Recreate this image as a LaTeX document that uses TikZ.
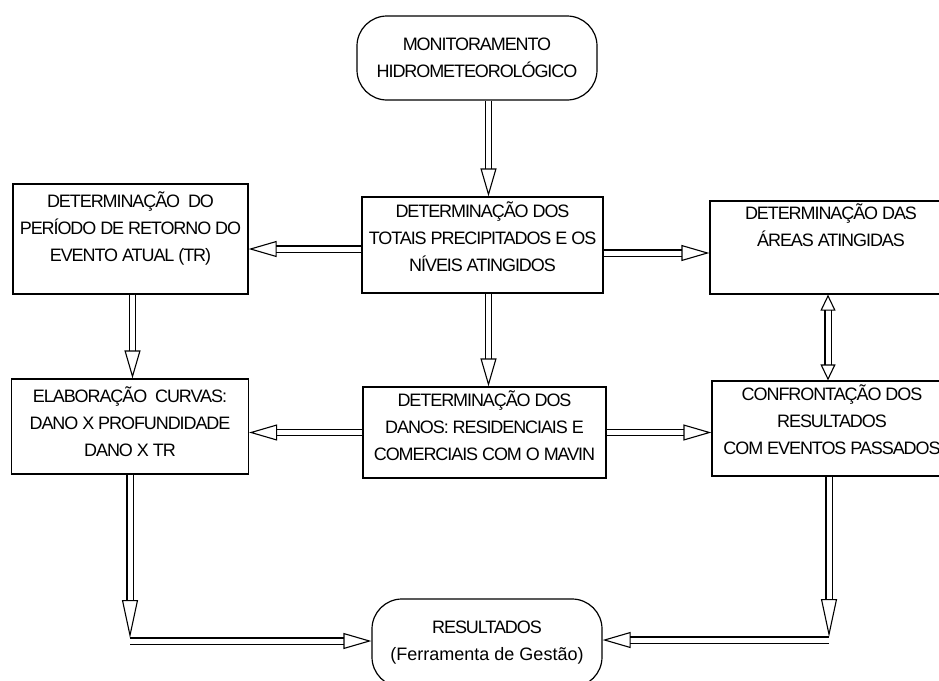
\documentclass[tikz,border=0pt]{standalone}
\usepackage{fontspec}
\setmainfont{Liberation Sans}[LetterSpace=-6]
\newfontfamily\plainsans{Liberation Sans}
\usetikzlibrary{arrows.meta}
\usetikzlibrary{calc}
\tikzstyle{block}=[draw,line width=1.2pt,inner sep=0pt]
\tikzstyle{term}=[draw,line width=1.2pt,rounded corners=30pt,align=center,inner sep=0pt]
\newcommand{\btext}[4]{\parbox[c][#2][t]{#1}{\centering\vspace*{#3}\strut#4}}

\begin{document}
\begin{tikzpicture}[x=1pt,y=-1pt,font=\fontsize{18}{27}\selectfont]
\tikzstyle{arr}=[double,double distance=5pt,line width=1.1pt,-{Triangle[open,length=28pt,width=16pt,line width=1.1pt]}]
\tikzstyle{longarr}=[arr,-{Triangle[open,length=38pt,width=16pt,line width=1.1pt]}]
\tikzstyle{dblarr}=[arr,{Triangle[open,length=16pt,width=15pt,line width=1.1pt]}-{Triangle[open,length=16pt,width=15pt,line width=1.1pt]}]
\useasboundingbox (0,0) rectangle (939,680);
\node [term,minimum width=240pt,minimum height=84pt] (mon) at (477,58) {MONITORAMENTO\\HIDROMETEOROLÓGICO};
\node [block] (tot) at (482.5,245) {\btext{241pt}{96pt}{2pt}{DETERMINAÇÃO DOS\\TOTAIS PRECIPITADOS E OS\\NÍVEIS ATINGIDOS}};
\node [block] (tr) at (130.5,239) {\btext{235pt}{110pt}{5pt}{DETERMINAÇÃO~ DO\\PERÍODO DE RETORNO DO\\EVENTO ATUAL (TR)}};
\node [block] (are) at (831,247.5) {\btext{242pt}{93pt}{0pt}{DETERMINAÇÃO DAS\\ÁREAS ATINGIDAS}};
\node [block] (cur) at (130,426.5) {\btext{237pt}{95pt}{5pt}{ELABORAÇÃO~ CURVAS:\\DANO X PROFUNDIDADE\\DANO X TR}};
\node [block] (dan) at (484.5,432.5) {\btext{243pt}{91pt}{1pt}{DETERMINAÇÃO DOS\\DANOS: RESIDENCIAIS E\\COMERCIAIS COM O MAVIN}};
\node [block] (con) at (832,428.5) {\btext{240pt}{95pt}{1pt}{CONFRONTAÇÃO DOS\\RESULTADOS\\COM EVENTOS PASSADOS}};
\node [term,minimum width=230pt,minimum height=88pt] (res) at (487,643) {RESULTADOS\\{\plainsans(Ferramenta de Gestão)}};
\coordinate (lc) at (130,641);
\coordinate (rc) at (829,640);
\draw [arr] ([xshift=6pt]tot.north |- mon.south) -- ([xshift=6pt]tot.north);
\draw [arr] ([yshift=-4pt]tot.west) -- ([yshift=-4pt]tot.west -| tr.east);
\draw [arr] ([yshift=-8pt]tot.east) -- ([yshift=-8pt]tot.east -| are.west);
\draw [arr] ([xshift=6pt]tot.south) -- ([xshift=6pt]tot.south |- dan.north);
\draw [arr] ([xshift=2pt]tr.south) -- ([xshift=2pt]tr.south |- cur.north);
\draw [arr] (dan.west) -- (dan.west -| cur.east);
\draw [arr] (dan.east) -- (dan.east -| con.west);
\draw [dblarr] ([xshift=-3pt]are.south) -- ([xshift=-3pt]are.south |- con.north);
\draw [longarr] (lc |- cur.south) -- ([yshift=3pt]lc);
\draw [arr] (lc) -- (lc -| res.west);
\draw [longarr] (rc |- con.south) -- ([yshift=3pt]rc);
\draw [arr] (rc) -- (rc -| res.east);
\end{tikzpicture}
\end{document}
